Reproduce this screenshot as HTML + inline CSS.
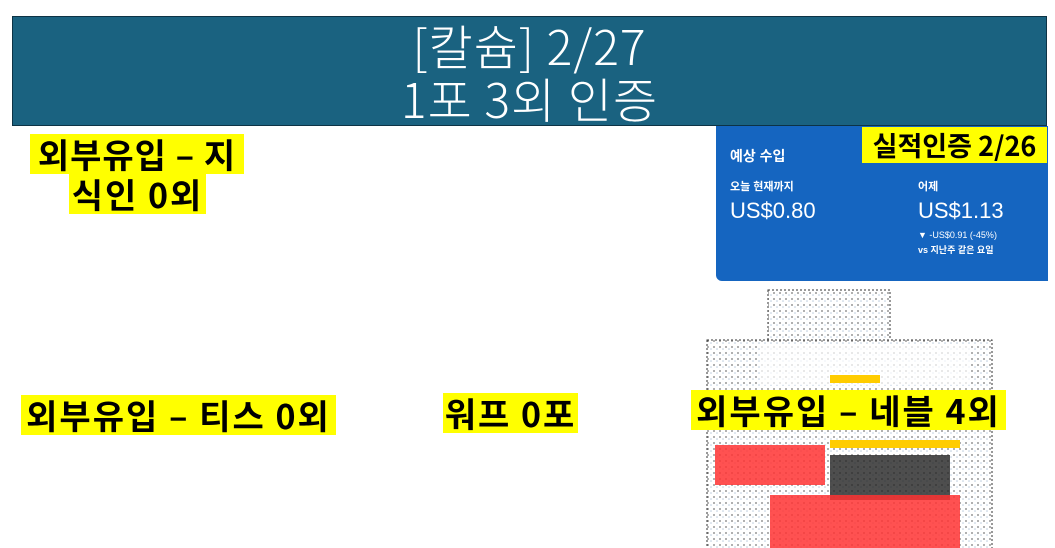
<!DOCTYPE html>
<html><head><meta charset="utf-8"><style>
body{margin:0;width:1055px;height:548px;background:#fff;position:relative;overflow:hidden;font-family:"Liberation Sans","Noto Sans CJK KR",sans-serif}
.hdr{position:absolute;left:12px;top:16px;width:1033px;height:108px;background:#1a6280;border:1px solid #0d3345;color:#fff;text-align:center;font-size:48px;line-height:53px;font-weight:300;letter-spacing:1px;font-family:"Noto Sans CJK KR",sans-serif}
.y{position:absolute;background:#ffff00;color:#000;font-weight:bold;font-size:34px;letter-spacing:2px;line-height:40px;font-family:"Noto Sans CJK KR",sans-serif;white-space:nowrap}
.card{position:absolute;left:716px;top:126px;width:332px;height:155px;background:#1565c0;border-radius:0 0 0 6px;color:#fff;font-family:"Liberation Sans","Noto Sans CJK KR",sans-serif}
.card div{position:absolute;white-space:nowrap}
.n{position:absolute}
</style></head><body>
<div class="hdr"><div style="margin-top:1px">[칼슘] 2/27</div><div>1포 3외 인증</div></div>
<div class="y" style="left:30px;top:134px;width:214px;text-align:center;letter-spacing:1px">외부유입 – 지</div>
<div class="y" style="left:69px;top:174px;width:137px;text-align:center">식인 0외</div>
<div class="y" style="left:21px;top:395px;width:315px;text-align:center">외부유입 – 티스 0외</div>
<div class="y" style="left:443px;top:393px;width:135px;text-align:center">워프 0포</div>
<div class="card">
<div style="left:14px;top:20px;font-size:14px;font-weight:bold">예상 수입</div>
<div style="left:14px;top:52px;font-size:11px;font-weight:bold">오늘 현재까지</div>
<div style="left:14px;top:72px;font-size:22px">US$0.80</div>
<div style="left:202px;top:52px;font-size:11px;font-weight:bold">어제</div>
<div style="left:202px;top:72px;font-size:22px">US$1.13</div>
<div style="left:202px;top:104px;font-size:9px">▼ -US$0.91 (-45%)</div>
<div style="left:202px;top:117px;font-size:9px;font-weight:bold">vs 지난주 같은 요일</div>
</div>
<div class="y" style="left:862px;top:127px;width:185px;height:36px;line-height:36px;font-size:27px;letter-spacing:0;text-align:center">실적인증 2/26</div>
<svg class="n" style="left:700px;top:285px" width="300" height="263">
<defs><pattern id="p" width="6" height="6" patternUnits="userSpaceOnUse"><rect width="6" height="6" fill="#fff"/><circle cx="2" cy="2" r="1" fill="#999"/><circle cx="5" cy="4" r=".8" fill="#bcd"/></pattern></defs>
<rect x="68" y="5" width="122" height="55" fill="url(#p)" stroke="#333" stroke-dasharray="2 2"/>
<rect x="7" y="55" width="285" height="210" fill="url(#p)" stroke="#333" stroke-dasharray="2 2"/>
<rect x="60" y="60" width="210" height="40" fill="#fff" opacity=".7"/>
<rect x="15" y="160" width="110" height="40" fill="#f33" opacity=".85"/>
<rect x="130" y="170" width="120" height="45" fill="#222" opacity=".8"/>
<rect x="70" y="210" width="190" height="53" fill="#f33" opacity=".85"/>
<rect x="130" y="90" width="50" height="8" fill="#fc0"/>
<rect x="130" y="155" width="130" height="8" fill="#fc0"/>
</svg>
<div class="y" style="left:691px;top:390px;width:315px;text-align:center">외부유입 – 네블 4외</div>
</body></html>
